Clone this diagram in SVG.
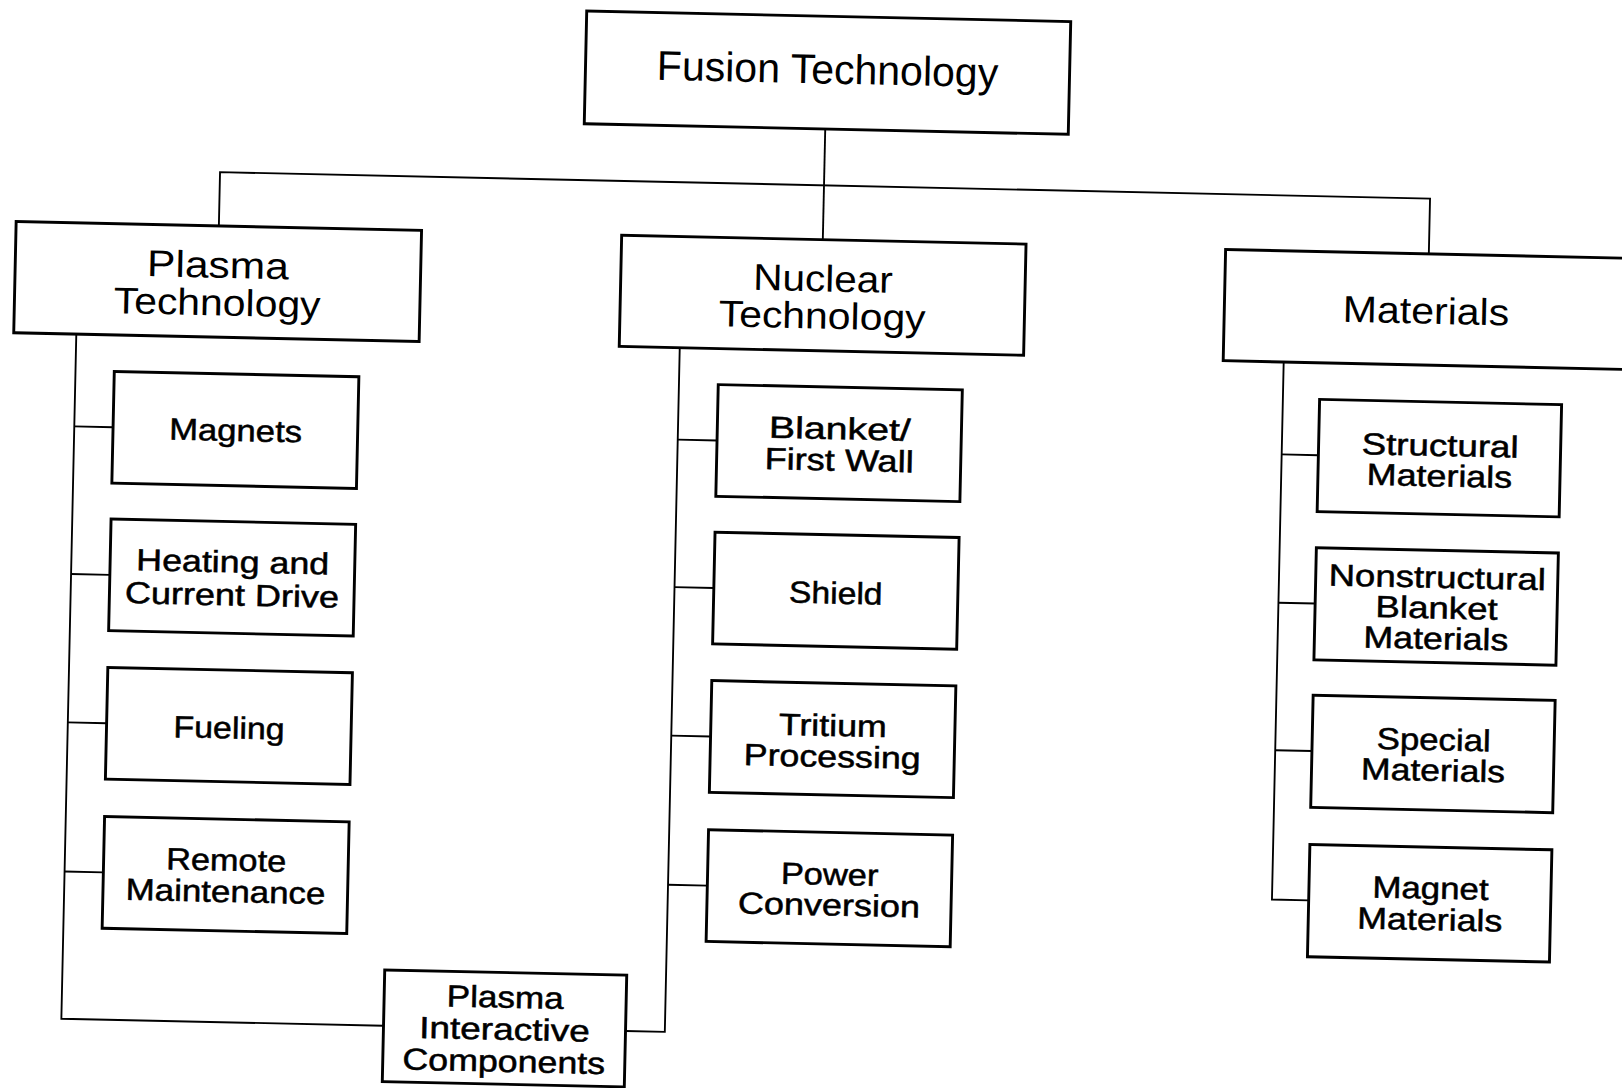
<svg xmlns="http://www.w3.org/2000/svg" width="1622" height="1088" viewBox="0 0 1622 1088">
<style>
.box{fill:#fff;stroke:#000;stroke-width:2.8}
.conn{fill:none;stroke:#000;stroke-width:1.8}
text{font-family:'Liberation Sans',Arial,sans-serif;text-anchor:middle;fill:#000}
.t1{font-size:40px}
.t2{font-size:36px}
.t3{font-size:29.5px;stroke:#000;stroke-width:0.5}
</style>
<rect width="1622" height="1088" fill="#fff"/>
<g transform="scale(1.03444) rotate(1.25 784 526)">
<g id="connectors">
<path class="conn" d="M789,124.5 V231.5"/>
<path class="conn" d="M205,231 V179 H1375 V232.5"/>
<path class="conn" d="M69.5,338.5 V1000.5 H381"/>
<path class="conn" d="M69.5,427.8 H107 M69.5,570.5 H107 M69.5,714 H107 M69.5,858.2 H107"/>
<path class="conn" d="M653,339 V1000.5 H615"/>
<path class="conn" d="M653,427.8 H691 M653,570.5 H691 M653,714 H691 M653,858.2 H691"/>
<path class="conn" d="M1237,340 V859.8 H1272.5"/>
<path class="conn" d="M1237,429.4 H1272.5 M1237,572.8 H1272.5 M1237,715.4 H1272.5"/>
</g>
<g id="fusion-technology">
<rect class="box" x="556" y="15.5" width="468" height="109"/>
<text class="t1" x="790" y="80.5" textLength="330" lengthAdjust="spacingAndGlyphs">Fusion Technology</text>
</g>
<g id="plasma-technology">
<rect class="box" x="9" y="231" width="392" height="107.5"/>
<text class="t2" x="205" y="281" textLength="137" lengthAdjust="spacingAndGlyphs">Plasma</text>
<text class="t2" x="205" y="317.5" textLength="200" lengthAdjust="spacingAndGlyphs">Technology</text>
</g>
<g id="nuclear-technology">
<rect class="box" x="594.5" y="231.5" width="391" height="107.5"/>
<text class="t2" x="790" y="281.5" textLength="135" lengthAdjust="spacingAndGlyphs">Nuclear</text>
<text class="t2" x="790" y="317.5" textLength="200" lengthAdjust="spacingAndGlyphs">Technology</text>
</g>
<g id="materials">
<rect class="box" x="1178.5" y="232.5" width="390" height="107.5"/>
<text class="t2" x="1373.5" y="300" textLength="161" lengthAdjust="spacingAndGlyphs">Materials</text>
</g>
<g id="magnets">
<rect class="box" x="107" y="373.8" width="236.5" height="108"/>
<text class="t3" x="225.5" y="438.5" textLength="128.6" lengthAdjust="spacingAndGlyphs">Magnets</text>
</g>
<g id="heating-current-drive">
<rect class="box" x="107" y="516.5" width="236.5" height="108"/>
<text class="t3" x="225.5" y="565.5" textLength="186.5" lengthAdjust="spacingAndGlyphs">Heating and</text>
<text class="t3" x="225.5" y="597.5" textLength="207" lengthAdjust="spacingAndGlyphs">Current Drive</text>
</g>
<g id="fueling">
<rect class="box" x="107" y="660" width="236.5" height="108"/>
<text class="t3" x="225.5" y="726" textLength="107.5" lengthAdjust="spacingAndGlyphs">Fueling</text>
</g>
<g id="remote-maintenance">
<rect class="box" x="107" y="804.2" width="236.5" height="108"/>
<text class="t3" x="225.5" y="853.8" textLength="116" lengthAdjust="spacingAndGlyphs">Remote</text>
<text class="t3" x="225.5" y="884.2" textLength="193" lengthAdjust="spacingAndGlyphs">Maintenance</text>
</g>
<g id="plasma-interactive-components">
<rect class="box" x="381" y="946.5" width="234" height="108"/>
<text class="t3" x="498" y="980.5" textLength="113" lengthAdjust="spacingAndGlyphs">Plasma</text>
<text class="t3" x="498" y="1011.5" textLength="165" lengthAdjust="spacingAndGlyphs">Interactive</text>
<text class="t3" x="498" y="1042.5" textLength="196" lengthAdjust="spacingAndGlyphs">Components</text>
</g>
<g id="blanket-first-wall">
<rect class="box" x="691" y="373.8" width="236" height="108"/>
<text class="t3" x="809.5" y="424" textLength="137" lengthAdjust="spacingAndGlyphs">Blanket/</text>
<text class="t3" x="809.5" y="454.5" textLength="144" lengthAdjust="spacingAndGlyphs">First Wall</text>
</g>
<g id="shield">
<rect class="box" x="691" y="516.5" width="236" height="108"/>
<text class="t3" x="809" y="583" textLength="90.5" lengthAdjust="spacingAndGlyphs">Shield</text>
</g>
<g id="tritium-processing">
<rect class="box" x="691" y="660" width="236" height="108"/>
<text class="t3" x="809" y="711" textLength="104.4" lengthAdjust="spacingAndGlyphs">Tritium</text>
<text class="t3" x="809" y="741" textLength="171" lengthAdjust="spacingAndGlyphs">Processing</text>
</g>
<g id="power-conversion">
<rect class="box" x="691" y="804.2" width="236" height="108"/>
<text class="t3" x="809" y="855" textLength="94.3" lengthAdjust="spacingAndGlyphs">Power</text>
<text class="t3" x="809" y="884.5" textLength="176" lengthAdjust="spacingAndGlyphs">Conversion</text>
</g>
<g id="structural-materials">
<rect class="box" x="1272.5" y="375.4" width="234" height="108.5"/>
<text class="t3" x="1390" y="427.5" textLength="151.8" lengthAdjust="spacingAndGlyphs">Structural</text>
<text class="t3" x="1390" y="457" textLength="140.5" lengthAdjust="spacingAndGlyphs">Materials</text>
</g>
<g id="nonstructural-blanket-materials">
<rect class="box" x="1272.5" y="518.8" width="234" height="108.5"/>
<text class="t3" x="1390" y="555" textLength="210" lengthAdjust="spacingAndGlyphs">Nonstructural</text>
<text class="t3" x="1390" y="584.6" textLength="118" lengthAdjust="spacingAndGlyphs">Blanket</text>
<text class="t3" x="1390" y="614.2" textLength="140" lengthAdjust="spacingAndGlyphs">Materials</text>
</g>
<g id="special-materials">
<rect class="box" x="1272.5" y="661.4" width="234" height="108.5"/>
<text class="t3" x="1390" y="712" textLength="110.4" lengthAdjust="spacingAndGlyphs">Special</text>
<text class="t3" x="1390" y="741.7" textLength="139.3" lengthAdjust="spacingAndGlyphs">Materials</text>
</g>
<g id="magnet-materials">
<rect class="box" x="1272.5" y="805.8" width="234" height="108.5"/>
<text class="t3" x="1390" y="855.6" textLength="112.3" lengthAdjust="spacingAndGlyphs">Magnet</text>
<text class="t3" x="1390" y="886" textLength="140.4" lengthAdjust="spacingAndGlyphs">Materials</text>
</g>
</g>
</svg>
